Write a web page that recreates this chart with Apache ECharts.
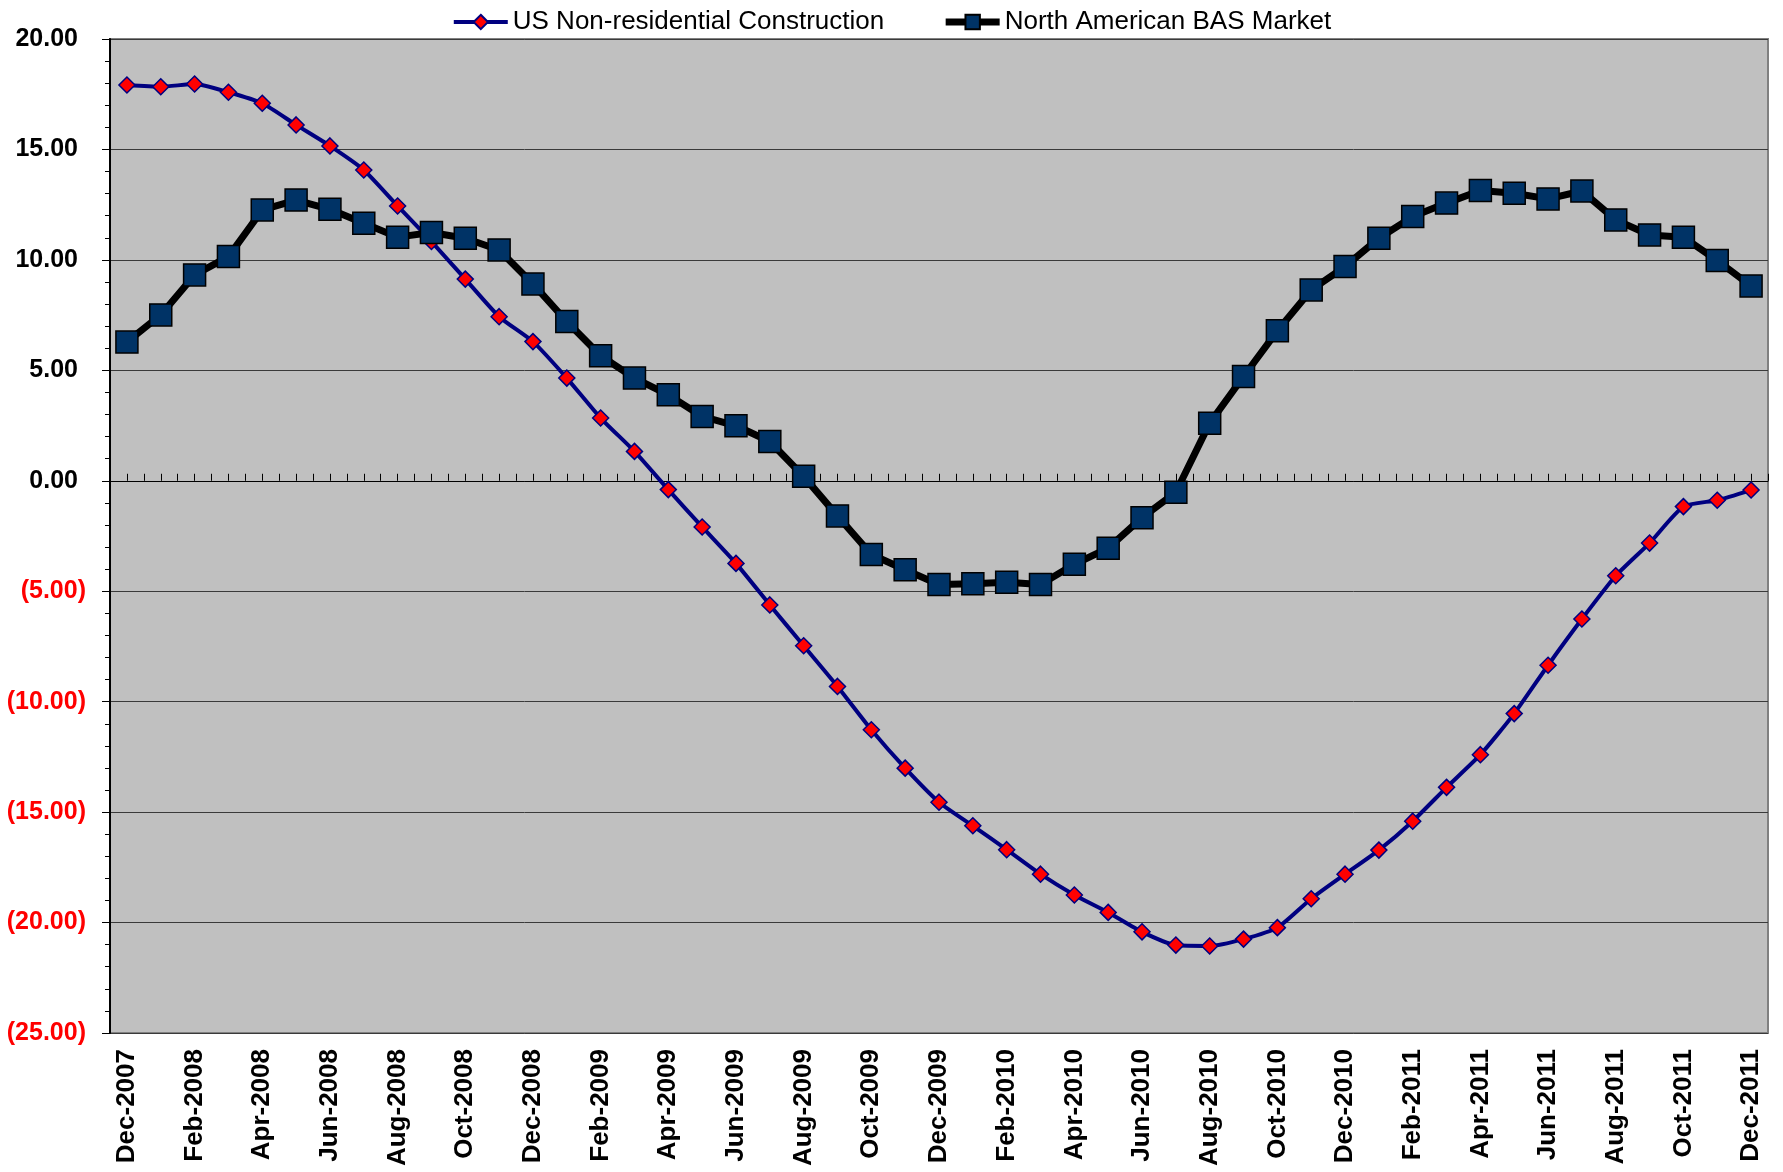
<!DOCTYPE html>
<html>
<head>
<meta charset="utf-8">
<script src="https://cdn.jsdelivr.net/npm/echarts@6/dist/echarts.min.js"></script>
<style>
html,body{margin:0;padding:0;background:#fff;}
#chart{width:1783px;height:1172px;}
</style>
</head>
<body>
<div id="chart"></div>
<script>
const months = [
  'Dec-2007','Jan-2008','Feb-2008','Mar-2008','Apr-2008','May-2008','Jun-2008','Jul-2008','Aug-2008','Sep-2008','Oct-2008','Nov-2008','Dec-2008',
  'Jan-2009','Feb-2009','Mar-2009','Apr-2009','May-2009','Jun-2009','Jul-2009','Aug-2009','Sep-2009','Oct-2009','Nov-2009','Dec-2009',
  'Jan-2010','Feb-2010','Mar-2010','Apr-2010','May-2010','Jun-2010','Jul-2010','Aug-2010','Sep-2010','Oct-2010','Nov-2010','Dec-2010',
  'Jan-2011','Feb-2011','Mar-2011','Apr-2011','May-2011','Jun-2011','Jul-2011','Aug-2011','Sep-2011','Oct-2011','Nov-2011','Dec-2011'
];

const usNonResidential = [
  17.92, 17.84, 17.96, 17.59, 17.09, 16.11, 15.16, 14.07, 12.44, 10.83, 9.13, 7.43, 6.30,
  4.65, 2.84, 1.33, -0.40, -2.09, -3.74, -5.62, -7.47, -9.31, -11.27, -13.01, -14.55,
  -15.62, -16.70, -17.81, -18.75, -19.54, -20.42, -21.02, -21.06, -20.75, -20.23, -18.92, -17.81,
  -16.72, -15.41, -13.88, -12.40, -10.54, -8.35, -6.26, -4.30, -2.82, -1.17, -0.88, -0.42
];

const basMarket = [
  6.28, 7.51, 9.32, 10.15, 12.26, 12.71, 12.29, 11.66, 11.03, 11.24, 10.98, 10.45, 8.91,
  7.21, 5.66, 4.65, 3.89, 2.91, 2.49, 1.78, 0.20, -1.59, -3.34, -4.03, -4.70,
  -4.66, -4.59, -4.70, -3.78, -3.05, -1.67, -0.52, 2.61, 4.72, 6.79, 8.64, 9.70,
  10.98, 11.96, 12.57, 13.14, 13.02, 12.76, 13.12, 11.81, 11.13, 11.03, 9.97, 8.82
];

const seriesNames = ['US Non-residential Construction', 'North American BAS Market'];
const yMin = -25, yMax = 20, yStep = 5;

const FONT = "'Liberation Sans', Arial, sans-serif";
const chart = echarts.init(document.getElementById('chart'));
chart.setOption({
  animation: false,
  textStyle: { fontFamily: FONT },
  legend: {
    top: 4,
    left: 'center',
    itemWidth: 54,
    itemHeight: 18,
    itemGap: 58,
    textStyle: { fontSize: 26, color: '#000', fontFamily: FONT },
    data: [
      { name: seriesNames[0], lineStyle: { width: 4, color: '#000080' } },
      { name: seriesNames[1], lineStyle: { width: 7, color: '#000' } }
    ]
  },
  grid: {
    left: 110, right: 15, top: 39, bottom: 139,
    show: true,
    backgroundColor: '#c0c0c0',
    borderColor: '#808080',
    borderWidth: 2
  },
  xAxis: [
    {
      type: 'category',
      data: months,
      boundaryGap: true,
      axisLine: { show: false, onZero: false },
      axisTick: { show: false },
      splitLine: { show: false },
      axisLabel: {
        interval: 1,
        rotate: 90,
        margin: 16,
        fontSize: 26,
        fontWeight: 'bold',
        color: '#000',
        fontFamily: FONT
      }
    },
    {
      type: 'value',
      min: -0.5,
      max: months.length - 0.5,
      interval: 0.5,
      axisLine: { show: true, onZero: true, onZeroAxisIndex: 0, lineStyle: { color: '#000', width: 1 } },
      axisTick: { show: true, length: 7, lineStyle: { color: '#000', width: 1 } },
      axisLabel: { show: false },
      splitLine: { show: false }
    }
  ],
  yAxis: {
    type: 'value',
    min: yMin,
    max: yMax,
    interval: yStep,
    axisLine: { show: true, onZero: false, lineStyle: { color: '#000', width: 2 } },
    axisTick: { show: true, length: 8, lineStyle: { color: '#000', width: 1 } },
    minorTick: { show: true, splitNumber: 5, length: 5, lineStyle: { color: '#000', width: 1 } },
    splitLine: { show: true, lineStyle: { color: '#3a3a3a', width: 1 } },
    axisLabel: {
      margin: 24,
      formatter: function (v) {
        return v < 0 ? '{n|(' + Math.abs(v).toFixed(2) + ')}' : '{p|' + v.toFixed(2) + '}';
      },
      rich: {
        n: { color: '#ff0000', fontWeight: 'bold', fontSize: 25, fontFamily: FONT },
        p: { color: '#000', fontWeight: 'bold', fontSize: 25, fontFamily: FONT, padding: [0, 8, 0, 0] }
      }
    }
  },
  series: [
    {
      name: seriesNames[0],
      type: 'line',
      xAxisIndex: 0,
      data: usNonResidential,
      smooth: 0.2,
      symbol: 'diamond',
      symbolSize: 16,
      lineStyle: { color: '#000080', width: 4 },
      itemStyle: { color: '#ff0000', borderColor: '#000080', borderWidth: 1.5 },
      z: 2
    },
    {
      name: seriesNames[1],
      type: 'line',
      xAxisIndex: 0,
      data: basMarket,
      symbol: 'rect',
      symbolSize: 22,
      lineStyle: { color: '#000', width: 7 },
      itemStyle: { color: '#003366', borderColor: '#000', borderWidth: 1.5 },
      z: 3
    }
  ]
});
</script>
</body>
</html>
